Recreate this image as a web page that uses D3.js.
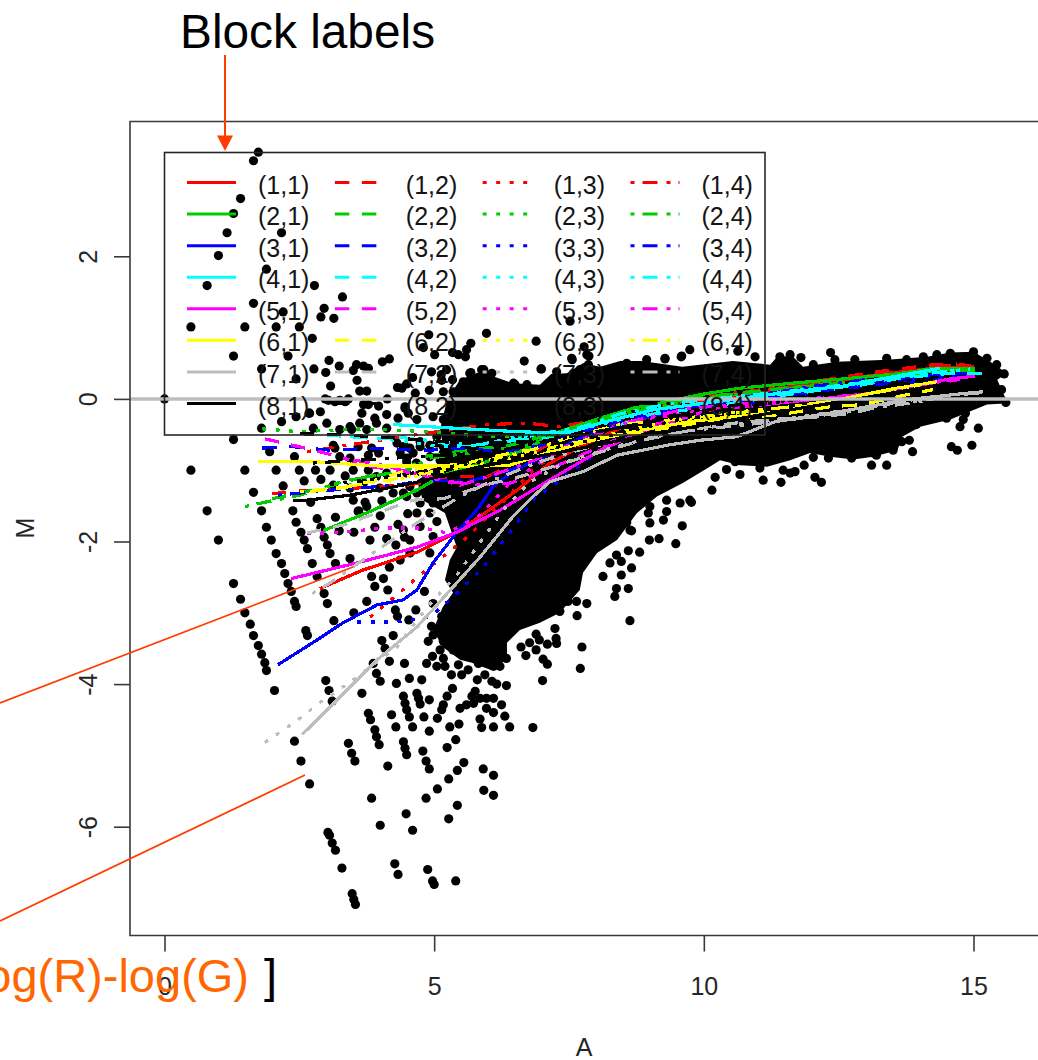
<!DOCTYPE html>
<html>

<head>
  <meta charset="utf-8">
  <title>MA plot by print-tip block</title>
  <script src="https://d3js.org/d3.v7.min.js"></script>
  <style>
    body {
      margin: 0;
      background: white;
    }

    svg {
      display: block;
      font-family: "Liberation Sans", Arial, sans-serif;
    }

    .axis text,
    .axislabel {
      font-size: 25px;
      fill: #262626;
    }

    .legendlabel {
      font-size: 25px;
      fill: #141414;
    }

    .axis line {
      stroke: #3a3a3a;
      stroke-width: 1.6;
    }

    .axis .domain {
      display: none;
    }
  </style>
</head>

<body>
  <svg id="plot" width="1038" height="1060"></svg>

  <script>
    const xTicks = [0, 5, 10, 15];
    const yTicks = [-6, -4, -2, 0, 2];
    const blockRows = [1, 2, 3, 4, 5, 6, 7, 8];
    const blockCols = [1, 2, 3, 4];
    const rowColors = ["#ff0000", "#00cd00", "#0000ff", "#00ffff", "#ff00ff", "#ffff00", "#bebebe", "#000000"];
    const colDashes = ["none", "14.5 12.5", "4 9.5", "4 8 15 9"];

    // outline of the part of the cloud where the dots merge into solid black
    const cloudA = [5.24, 5.48, 5.85, 6.46, 6.96, 7.17, 7.46, 7.76, 8.08, 8.45, 8.84, 9.60, 10.54, 11.23, 11.36, 11.64, 11.84, 12.47, 13.40, 14.14, 14.57, 15.00, 15.31, 15.62, 15.44, 15.55, 15.64, 15.25, 14.57, 14.01, 13.68, 13.59, 13.14, 12.77, 12.34, 11.97, 11.60, 11.17, 10.67, 10.30, 10.11, 9.61, 9.13, 8.76, 8.39, 8.02, 7.76, 7.70, 7.33, 6.96, 6.59, 6.35, 6.35, 6.04, 5.70, 5.48, 5.16, 4.98, 5.16, 5.35, 5.20, 5.29, 5.42, 5.20, 4.79, 4.68, 4.92, 5.20, 5.11];
    const cloudM = [-0.01, 0.27, 0.38, 0.22, 0.20, 0.35, 0.36, 0.50, 0.45, 0.53, 0.53, 0.45, 0.53, 0.48, 0.59, 0.60, 0.45, 0.52, 0.55, 0.59, 0.65, 0.66, 0.52, 0.36, 0.27, 0.08, -0.06, -0.08, -0.29, -0.39, -0.53, -0.72, -0.81, -0.85, -0.81, -0.76, -0.86, -0.95, -0.93, -0.86, -0.95, -1.18, -1.37, -1.60, -1.98, -2.16, -2.44, -2.68, -3.00, -3.14, -3.24, -3.42, -3.66, -3.80, -3.70, -3.66, -3.48, -3.24, -2.92, -2.72, -2.54, -2.26, -2.08, -1.60, -1.42, -1.14, -1.04, -0.79, -0.43];

    // single dots, [A, M]
    const spots = [
      [0, 0], [1.74, 3.46], [1.65, 3.34], [1.41, 2.81], [1.28, 2.60], [1.16, 2.33], [2.17, 2.33], [1.00, 2.01], [1.89, 1.82], [0.79, 1.59], [2.78, 1.59], [3.30, 1.43],
      [1.65, 1.34], [2.20, 1.22], [2.96, 1.27], [2.90, 1.15], [3.14, 1.13], [0.49, 1.01], [1.49, 1.01], [2.07, 1.01], [2.50, 1.01], [1.28, 0.60], [2.29, 0.60], [1.80, 0.42], [2.44, 0.28],
      [2.44, -0.25], [2.17, -0.32], [2.69, -0.20], [1.80, -0.41], [1.95, -0.74], [2.41, -0.81],
      [1.28, -0.57], [0.49, -1.00], [1.49, -1.00], [2.07, -1.00], [2.50, -1.00], [2.80, -1.00], [3.07, -1.00], [2.20, -1.22], [2.59, -1.15], [2.90, -1.13], [1.65, -1.31],
      [0.79, -1.57], [1.80, -1.57], [2.38, -1.57], [2.71, -1.45], [1.89, -1.80], [2.44, -1.73], [2.53, -1.87], [2.83, -1.68], [2.90, -1.80], [1.98, -1.98], [2.59, -1.98], [1.00, -1.98],
      [2.65, -2.10], [2.96, -1.94], [3.02, -2.05], [3.07, -2.17], [2.07, -2.17], [2.17, -2.31], [2.74, -2.31], [3.17, -2.31], [2.23, -2.45], [2.83, -2.49], [3.44, -2.24], [2.29, -2.59],
      [1.28, -2.59], [2.35, -2.70], [1.41, -2.81], [2.41, -2.84], [2.44, -2.91], [2.96, -2.73], [3.02, -2.87], [1.49, -3.00], [1.59, -3.16], [1.65, -3.32], [1.74, -3.46], [1.80, -3.58],
      [1.86, -3.70], [1.89, -3.81], [2.04, -4.09], [2.62, -3.25], [2.65, -3.32], [3.14, -3.11], [3.51, -3.00], [3.75, -2.84], [3.84, -2.49], [3.90, -2.63], [4.14, -2.68], [4.06, -2.52],
      [4.17, -2.36], [4.37, -2.26], [3.17, -1.66], [3.60, -1.57], [4.00, -1.64], [4.33, -1.76], [4.51, -1.61], [3.90, -1.80], [3.51, -1.87], [3.24, -1.85], [3.81, -1.98], [4.12, -1.96],
      [4.45, -1.94], [4.29, -2.05], [4.28, -2.96], [4.32, -3.05], [4.03, -3.39], [4.24, -3.32], [4.09, -3.50], [4.17, -3.68], [3.87, -3.71], [3.93, -3.85], [2.99, -3.95], [3.05, -4.09],
      [3.11, -4.24], [3.66, -4.13], [4.00, -3.96], [4.30, -3.99],
      [4.66, -2.96], [4.53, -3.10], [4.82, -2.70], [4.45, -3.71], [4.54, -3.92], [4.77, -3.94], [4.68, -4.13], [4.71, -4.20], [4.74, -4.28], [4.43, -4.17], [4.46, -4.27], [4.49, -4.36],
      [4.54, -4.46], [4.91, -4.22], [5.17, -4.29], [5.14, -4.36], [4.81, -4.46], [5.06, -4.48], [4.60, -4.60], [4.91, -4.66], [5.29, -4.60], [5.46, -4.56], [5.40, -4.78], [5.24, -4.89],
      [4.43, -4.81], [4.46, -4.90], [4.49, -4.99], [4.79, -4.94], [4.85, -5.08], [4.91, -5.19], [5.43, -5.21], [5.55, -5.10], [5.91, -5.19], [6.10, -5.28], [5.27, -5.33], [5.34, -4.06],
      [5.24, -4.17], [5.80, -3.94], [5.70, -4.17], [5.76, -4.10], [5.48, -4.34], [5.60, -4.29], [5.73, -4.27], [5.85, -4.20], [5.97, -4.20], [6.10, -4.20], [6.25, -4.29], [5.97, -4.34],
      [6.10, -4.40], [6.31, -4.45], [5.85, -4.49], [5.88, -4.61], [6.10, -4.60], [6.40, -4.60], [6.83, -4.61], [5.94, -3.87], [6.07, -3.96], [6.16, -4.00], [6.34, -4.02], [7.01, -3.95],
      [7.71, -3.78], [7.74, -3.48], [7.10, -3.72], [7.02, -3.65], [6.70, -3.60], [6.61, -3.48], [6.77, -3.42], [6.89, -3.52], [6.89, -3.30], [6.95, -3.38], [7.10, -3.44], [7.27, -3.43],
      [7.26, -3.36], [7.24, -3.22], [7.65, -3.04], [8.63, -3.11], [8.35, -2.77], [8.38, -2.66], [8.60, -2.66], [8.13, -2.49], [8.47, -2.47], [8.66, -2.37], [8.26, -2.30], [8.47, -2.28],
      [7.83, -2.87], [7.64, -2.84], [7.48, -2.84], [7.33, -2.98], [7.12, -2.94],
      [4.95, -3.19], [4.98, -3.31], [4.89, -3.40], [5.11, -3.52], [4.97, -3.61], [4.86, -3.71], [5.05, -3.75], [5.17, -3.64], [5.20, -3.75], [5.45, -3.73], [5.32, -3.87], [5.51, -3.87],
      [5.63, -3.80], [5.82, -3.71], [5.73, -3.52], [5.60, -3.54], [5.35, -3.52], [5.45, -3.38], [5.26, -3.24], [5.17, -3.40], [5.14, -3.05], [5.39, -2.98], [4.98, -2.87], [5.57, -3.19],
      [5.70, -3.33], [5.88, -3.61], [6.10, -3.75], [6.22, -3.75], [6.34, -3.64], [6.03, -3.52], [6.22, -3.52],
      [2.41, -4.80], [2.53, -5.08], [2.69, -5.40], [3.41, -4.83], [3.47, -4.97], [3.53, -5.08], [3.78, -4.41], [3.82, -4.50], [3.90, -4.64], [3.93, -4.74], [3.98, -4.85], [4.14, -5.15],
      [4.21, -4.43], [4.29, -4.60], [4.85, -5.60], [4.48, -5.82], [4.60, -6.05], [3.84, -5.60], [4.00, -5.98], [5.43, -5.70], [5.27, -5.89], [5.92, -5.49], [6.10, -5.56], [5.06, -5.47],
      [4.27, -6.52], [4.33, -6.67], [4.88, -6.60], [4.97, -6.76], [5.00, -6.81], [5.40, -6.76], [3.03, -6.08], [3.06, -6.12], [3.11, -6.23], [3.17, -6.33], [3.29, -6.58], [3.48, -6.94],
      [3.51, -7.02], [3.54, -7.09],
      [2.74, 0.85], [3.05, 0.54], [3.24, 0.46], [2.77, 0.42], [2.99, 0.37], [3.50, 0.40], [3.56, 0.48], [3.69, 0.46], [3.78, 0.43], [4.04, 0.52], [4.17, 0.56], [3.57, 0.26], [3.08, 0.18],
      [3.62, 0.11], [3.75, 0.11], [4.32, 0.16], [4.40, 0.15], [4.49, 0.21], [4.65, 0.08], [4.60, 0.30], [4.95, 0.38], [5.23, 0.41], [5.13, 0.34], [5.34, 0.27], [5.14, 0.26], [4.91, 0.12],
      [5.17, 0.10], [5.35, 0.10], [5.52, 0.09], [4.80, 0.72], [5.01, 0.62], [4.90, 0.90], [5.34, 0.65], [5.45, 0.62], [5.58, 0.59], [5.68, 0.78], [5.60, 0.69], [5.97, 0.92], [6.89, 0.81],
      [6.67, 0.53], [6.98, 0.42], [5.68, 0.37], [5.92, 0.41], [6.07, 0.36], [5.54, 0.24], [5.72, 0.20], [6.47, 0.22],
      [2.98, 0], [3.25, -0.02], [3.41, 0], [4.13, 0], [3.04, -0.02], [3.16, -0.04], [3.35, -0.04], [3.69, -0.08], [3.97, -0.10], [3.78, -0.08], [4.12, -0.22], [4.46, -0.11], [4.52, -0.20],
      [3.66, -0.20], [3.90, -0.27], [4.33, -0.27], [4.68, -0.29], [2.89, -0.18], [2.68, -0.20], [2.76, -0.41], [3.01, -0.34], [3.25, -0.43], [3.44, -0.39], [3.62, -0.34], [3.93, -0.34],
      [4.12, -0.41], [3.47, -0.43], [3.75, -0.43], [4.98, -0.25], [5.17, -0.29], [3.13, -0.65], [3.16, -0.69], [3.59, -0.67], [3.84, -0.69], [3.97, -0.76], [3.78, -0.79], [3.44, -0.83],
      [3.25, -0.81], [4.31, -0.62], [4.43, -0.67], [4.55, -0.69], [4.37, -0.76], [4.49, -0.83], [4.74, -0.67], [4.92, -0.65], [5.05, -0.53], [5.17, -0.67], [5.11, -0.86],
      [3.35, -1.08], [3.50, -1.00], [3.78, -1.00], [3.13, -1.21], [3.44, -1.25], [3.69, -1.18], [3.93, -1.09], [4.12, -1.04], [3.99, -1.25], [4.24, -1.32], [4.43, -1.32], [4.68, -1.32],
      [4.80, -1.28], [3.50, -1.42], [3.72, -1.45], [3.75, -1.51], [3.59, -1.58], [4.03, -1.43], [4.98, -1.46],
      [8.81, -2.15], [8.60, -2.13], [8.38, -2.19], [9.17, -1.96], [8.99, -1.98], [9.48, -2.03], [9.60, -1.78], [8.66, -1.85], [8.57, -1.73], [9.77, -1.45], [10.15, -1.28], [10.21, -1.10],
      [10.67, -1.06], [11.43, -1.17], [11.10, -1.14], [12.18, -1.17], [12.06, -1.10], [11.86, -0.93], [12.03, -0.82], [12.74, -0.83], [13.11, -0.93], [13.39, -0.93], [11.60, -1.04],
      [9.56, -1.46], [9.31, -1.58], [9.00, -1.74],
      [13.87, -0.74], [13.81, -0.58], [15.09, -0.41], [14.97, -0.65], [14.59, -0.67], [14.70, -0.72], [14.75, -0.39], [14.81, -0.29], [14.85, -0.20], [15.60, -0.05], [15.57, 0.35],
      [12.35, 0.65], [11.80, 0.58], [10.95, 0.59], [12.74, -0.72], [13.14, -0.76], [13.51, -0.67], [11.69, -1.02], [11.47, -1.00], [10.42, -0.99],
      [7.52, 1.09], [7.56, 0.55], [7.78, 0.73], [7.87, 0.60], [9.74, 0.69], [9.58, 0.59], [9.28, 0.56], [10.63, 0.67],
      // fringe of the solid part, top edge then lower edge
      [5.66, 0.36], [5.88, 0.41], [5.97, 0.31], [6.50, 0.20], [6.72, 0.20], [6.99, 0.42], [7.27, 0.38], [7.58, 0.36], [7.70, 0.41], [7.83, 0.45], [8.38, 0.43], [8.57, 0.50], [8.94, 0.55],
      [9.28, 0.57], [9.59, 0.60], [7.55, 0.57], [7.83, 0.62], [7.86, 0.48], [11.41, 0.59], [11.60, 0.62], [12.03, 0.48], [12.43, 0.55], [12.80, 0.55], [13.39, 0.57], [13.76, 0.55],
      [14.07, 0.59], [14.32, 0.62], [14.57, 0.64], [15.00, 0.66], [15.25, 0.57], [15.43, 0.48], [15.52, 0.13], [15.43, 0.13],
      [10.58, -0.88], [11.04, -0.97], [12.31, -0.83], [12.96, -0.74], [13.20, -0.79], [13.51, -0.72], [13.67, -0.60], [13.94, -0.36], [14.50, -0.27], [13.76, -0.39], [13.39, -0.58],
      [8.63, -1.84], [8.97, -1.60], [9.31, -1.42], [9.74, -1.42], [9.25, -1.70], [9.00, -1.51],
      // dense patch just left of the solid part
      [4.46, -0.13], [4.46, -0.67], [4.61, -0.76], [5.05, -0.62], [4.74, -0.60], [5.17, -0.76], [4.49, -0.88], [4.67, -0.90], [4.92, -0.81], [5.17, -0.90], [4.49, -1.04], [4.74, -1.02],
      [4.98, -1.04], [5.23, -1.02], [4.55, -1.23], [4.80, -1.18], [5.05, -1.23], [5.29, -1.37], [4.74, -1.46], [4.98, -1.37], [4.49, -1.37], [5.29, -1.56], [4.68, -1.60], [4.92, -1.60],
      [4.74, -1.79], [5.05, -1.72], [4.43, -1.84], [4.98, -1.93], [4.55, -1.98], [4.92, -2.16], [4.55, -2.16]
    ];

    // loess curves, one per block: rows 1-8, columns 1-4 inside each row
    const curveA = [
      [2.88, 3.68, 4.68, 5.42, 5.98, 6.54, 7.15, 7.76, 8.45, 9.08, 10.04, 11.23, 12.10, 13.21, 14.25, 14.94],
      [1.99, 2.51, 3.01, 3.94, 4.50, 5.48, 5.98, 6.54, 7.09, 7.76, 8.45, 9.08, 10.04, 11.23, 12.10, 13.21, 14.25, 15.03],
      [3.81, 4.31, 4.74, 5.61, 6.22, 6.83, 7.46, 8.08, 9.00, 10.04, 11.97, 13.40, 14.70],
      [2.64, 3.38, 4.87, 5.98, 6.72, 7.33, 8.08, 9.00, 10.04, 11.17, 12.34, 13.40, 14.70, 15.03],
      [2.94, 3.87, 4.68, 5.16, 6.65, 7.33, 8.08, 8.69, 9.32, 9.93, 10.67, 11.64, 12.58, 13.58, 14.20, 15.03],
      [1.99, 2.51, 3.01, 3.57, 4.50, 4.79, 5.61, 6.41, 7.15, 8.08, 9.00, 10.04, 11.23, 12.58, 13.58, 14.57],
      [1.81, 2.51, 3.68, 4.92, 5.98, 6.83, 7.76, 8.76, 10.04, 11.23, 12.58, 13.77, 14.88],
      [1.49, 1.73, 2.51, 3.38, 4.50, 4.92, 5.85, 6.72, 7.46, 8.45, 9.73, 11.17, 12.34, 13.40, 14.57, 15.03],
      [2.10, 2.83, 3.31, 3.94, 4.42, 4.68, 4.98, 5.42, 5.79, 6.09, 6.46, 6.96, 7.76, 8.76, 9.93, 11.41, 12.58, 14.38],
      [1.81, 2.38, 3.07, 3.68, 4.18, 4.92, 5.48, 6.22, 6.96, 7.76, 8.76, 10.04, 11.23, 12.77, 14.25, 14.94],
      [3.57, 4.24, 4.92, 5.35, 5.91, 6.54, 6.83, 7.46, 8.08, 9.00, 10.30, 11.97, 13.40, 14.88],
      [2.10, 3.07, 4.31, 4.79, 5.11, 5.72, 6.41, 7.33, 8.08, 9.00, 10.30, 11.97, 13.21, 14.62],
      [4.24, 5.35, 6.54, 7.46, 8.08, 9.08, 10.04, 11.32, 12.58, 13.58, 14.38],
      [2.51, 3.44, 3.87, 4.98, 5.29, 5.91, 6.46, 7.33, 8.08, 9.00, 9.93, 11.32, 12.58, 13.64, 14.57, 15.25],
      [3.44, 4.31, 5.11, 5.79, 6.54, 7.33, 8.08, 9.00, 10.30, 11.84, 13.21, 14.70],
      [4.13, 5.11, 5.72, 6.41, 6.96, 7.76, 8.45, 9.31, 10.67, 12.15, 13.58, 14.94],
      [2.35, 3.57, 4.68, 5.42, 6.22, 7.09, 8.08, 8.84, 10.04, 11.60, 13.08, 14.57, 15.03],
      [1.86, 2.38, 2.88, 3.31, 3.81, 4.31, 4.92, 5.29, 5.85, 6.41, 7.09, 8.08, 9.00, 10.30, 11.97, 13.21, 14.88],
      [2.64, 3.31, 4.05, 4.79, 5.24, 5.85, 6.46, 7.33, 8.45, 10.04, 11.97, 13.40, 14.70],
      [3.31, 4.05, 4.74, 5.48, 6.09, 6.78, 7.46, 8.45, 9.73, 11.41, 13.08, 14.57],
      [1.73, 2.75, 3.94, 5.24, 5.61, 6.41, 6.96, 7.83, 8.76, 9.73, 10.30, 11.41, 12.77, 13.69, 14.32],
      [2.70, 3.44, 4.05, 4.50, 5.61, 5.98, 6.54, 7.28, 7.83, 8.69, 9.93, 10.61, 11.41, 12.34, 12.95, 13.77, 14.25],
      [4.13, 5.11, 6.09, 6.96, 7.76, 8.76, 10.04, 11.41, 12.77, 14.01],
      [2.51, 3.20, 4.13, 5.11, 5.85, 6.72, 7.46, 8.45, 9.73, 11.17, 12.58, 14.01],
      [2.55, 3.20, 3.94, 4.68, 5.85, 6.46, 6.83, 7.15, 7.76, 8.39, 9.32, 9.93, 10.61, 11.32, 12.58, 13.77, 14.88, 15.18],
      [2.64, 3.31, 4.61, 5.16, 6.09, 6.46, 7.20, 8.02, 8.87, 9.61, 10.30, 11.23, 12.15, 12.77, 13.58, 14.62, 15.18],
      [1.86, 2.48, 2.88, 3.50, 4.31, 4.87, 5.42, 6.28, 6.78, 7.46, 8.45, 9.73, 11.41, 13.21, 14.57],
      [2.74, 3.07, 3.62, 4.68, 5.48, 6.09, 6.96, 7.76, 8.76, 9.93, 11.41, 13.08, 14.25],
      [2.38, 2.64, 3.44, 4.61, 5.85, 7.33, 9.00, 11.23, 13.08, 14.57],
      [2.51, 3.20, 4.31, 5.48, 6.96, 8.45, 10.30, 12.34, 14.25],
      [3.07, 4.13, 5.29, 6.54, 8.08, 10.04, 12.15, 14.01],
      [2.75, 3.81, 4.98, 6.22, 7.76, 9.73, 11.97, 14.25]
    ];
    const curveM = [
      [-2.66, -2.40, -2.15, -1.87, -1.58, -1.28, -0.90, -0.65, -0.41, -0.22, -0.04, 0.10, 0.21, 0.34, 0.43, 0.45],
      [-1.33, -1.29, -1.28, -1.23, -1.21, -1.09, -1.09, -0.88, -0.65, -0.45, -0.29, -0.15, -0.01, 0.13, 0.25, 0.38, 0.48, 0.46],
      [-3.06, -2.75, -2.47, -1.94, -1.49, -1.00, -0.65, -0.43, -0.22, 0.01, 0.20, 0.34, 0.49],
      [-0.74, -0.65, -0.48, -0.36, -0.34, -0.39, -0.29, -0.13, 0.03, 0.14, 0.22, 0.32, 0.49, 0.45],
      [-1.85, -1.56, -1.28, -1.07, -0.72, -0.46, -0.27, -0.13, -0.04, 0.06, 0.15, 0.22, 0.28, 0.35, 0.42, 0.42],
      [-1.40, -1.32, -1.23, -1.12, -1.00, -0.81, -0.72, -0.65, -0.50, -0.29, -0.13, 0.03, 0.13, 0.22, 0.31, 0.41],
      [-0.42, -0.46, -0.42, -0.46, -0.53, -0.53, -0.41, -0.18, 0.01, 0.13, 0.24, 0.34, 0.38],
      [-1.51, -1.47, -1.35, -1.14, -1.00, -0.83, -0.74, -0.65, -0.46, -0.22, -0.01, 0.11, 0.21, 0.29, 0.39, 0.38],
      [-3.73, -3.38, -3.14, -2.89, -2.82, -2.68, -2.30, -1.87, -1.56, -1.23, -1.02, -0.83, -0.53, -0.29, -0.08, 0.04, 0.15, 0.27],
      [-0.69, -0.67, -0.72, -0.70, -0.70, -0.72, -0.69, -0.74, -0.66, -0.46, -0.24, -0.06, 0.08, 0.21, 0.34, 0.36],
      [-3.13, -3.13, -3.06, -2.78, -2.36, -1.74, -1.42, -1.07, -0.72, -0.41, -0.15, 0.08, 0.24, 0.34],
      [-1.35, -1.28, -1.21, -1.14, -1.14, -1.14, -1.00, -0.72, -0.46, -0.24, -0.03, 0.17, 0.29, 0.36],
      [-0.36, -0.41, -0.46, -0.48, -0.34, -0.15, -0.06, 0.07, 0.18, 0.32, 0.43],
      [-0.48, -0.53, -0.55, -0.58, -0.65, -0.62, -0.58, -0.55, -0.46, -0.22, -0.13, 0.03, 0.15, 0.29, 0.36, 0.36],
      [-0.53, -0.58, -0.67, -0.65, -0.53, -0.48, -0.36, -0.18, -0.01, 0.10, 0.25, 0.41],
      [-0.52, -0.60, -0.65, -0.59, -0.49, -0.39, -0.21, -0.07, 0.04, 0.15, 0.31, 0.42],
      [-2.52, -2.30, -2.08, -1.87, -1.56, -1.16, -0.72, -0.46, -0.17, -0.04, 0.07, 0.28, 0.32],
      [-0.56, -0.65, -0.74, -0.83, -0.95, -1.00, -1.09, -1.16, -1.21, -1.18, -1.00, -0.67, -0.36, -0.13, 0, 0.08, 0.29],
      [-1.89, -1.87, -1.81, -1.81, -1.88, -1.63, -1.14, -0.72, -0.36, -0.15, -0.01, 0.10, 0.24],
      [-0.83, -0.93, -1.07, -1.21, -1.07, -0.88, -0.66, -0.35, -0.13, -0.03, 0.07, 0.24],
      [-0.88, -0.88, -0.94, -0.94, -0.95, -0.93, -0.79, -0.60, -0.45, -0.32, -0.27, -0.18, 0.03, 0.17, 0.24],
      [-1.30, -1.23, -1.11, -1.00, -0.90, -0.83, -0.74, -0.67, -0.58, -0.48, -0.34, -0.27, -0.22, -0.11, -0.08, 0.06, 0.13],
      [-1.16, -1.02, -0.88, -0.74, -0.58, -0.41, -0.22, -0.13, 0.01, 0.15],
      [-1.30, -1.25, -1.14, -1.00, -0.88, -0.74, -0.55, -0.36, -0.27, -0.15, -0.01, 0.18],
      [-4.71, -4.22, -3.66, -3.20, -2.22, -1.65, -1.37, -1.16, -1.02, -0.79, -0.65, -0.58, -0.53, -0.32, -0.17, -0.01, 0.08, 0.10],
      [-1.88, -1.77, -1.42, -1.40, -1.18, -1.12, -0.95, -0.76, -0.58, -0.46, -0.36, -0.29, -0.25, -0.20, -0.04, 0.06, 0.08],
      [-4.82, -4.50, -4.26, -3.94, -3.48, -2.92, -2.47, -1.56, -1.16, -0.88, -0.65, -0.43, -0.29, -0.10, 0.03],
      [-2.73, -2.58, -2.29, -1.74, -1.37, -1.14, -0.88, -0.70, -0.53, -0.43, -0.31, -0.14, -0.01],
      [-1.42, -1.42, -1.35, -1.18, -0.95, -0.75, -0.50, -0.20, 0.03, 0.22],
      [-0.49, -0.50, -0.55, -0.62, -0.60, -0.40, -0.12, 0.10, 0.28],
      [-1.20, -1.10, -0.95, -0.80, -0.55, -0.20, 0.05, 0.25],
      [-0.90, -0.85, -0.80, -0.72, -0.50, -0.22, 0.02, 0.27]
    ];

    const svg = d3.select("svg#plot");
    const svgWidth = +svg.attr("width");

    const frame = { "left": 130, "top": 121.5, "bottom": 935.5 };
    const xScale = d3.scaleLinear().domain([0, 15]).range([164.5, 973.5]);
    const yScale = d3.scaleLinear().domain([-6, 2]).range([826.7, 256.3]);
    const curveLine = d3.line().x(d => xScale(d[0])).y(d => yScale(d[1]));

    // axes first so the big orange text can sit on the 0 label
    let bottomAxis = d3.axisBottom(xScale).tickValues(xTicks).tickSize(16).tickPadding(25.5).tickFormat(d3.format("d"));
    svg.append("g")
      .attr("class", "axis")
      .attr("transform", `translate(0,${frame.bottom})`)
      .call(bottomAxis);

    let leftAxis = d3.axisLeft(yScale).tickValues(yTicks).tickSize(16).tickFormat(d => d3.format("d")(d).replace("−", "-"));
    svg.append("g")
      .attr("class", "axis")
      .attr("transform", `translate(${frame.left},0)`)
      .call(leftAxis)
      .selectAll("text")
      .attr("x", 0)
      .attr("dy", 0)
      .attr("text-anchor", "middle")
      .attr("transform", "translate(-33,0) rotate(-90)");

    svg.append("text").attr("class", "axislabel")
      .attr("x", 584).attr("y", 1056)
      .attr("text-anchor", "middle")
      .text("A");

    svg.append("text").attr("class", "axislabel")
      .attr("transform", "translate(34,528) rotate(-90)")
      .attr("text-anchor", "middle")
      .text("M");

    // solid part of the cloud, then the loose dots
    svg.append("path")
      .attr("d", curveLine(cloudA.map((a, i) => [a, cloudM[i]])) + "Z")
      .attr("fill", "black");

    svg.append("g").selectAll("circle").data(spots)
      .join("circle")
      .attr("cx", d => xScale(d[0]))
      .attr("cy", d => yScale(d[1]))
      .attr("r", 4.6)
      .attr("fill", "black");

    // one curve per block, the reference has them aliased
    let curves = svg.append("g")
      .attr("fill", "none")
      .attr("stroke-width", 3.2)
      .attr("shape-rendering", "crispEdges");
    blockRows.forEach((row, r) => {
      blockCols.forEach((col, c) => {
        let k = r * blockCols.length + c;
        curves.append("path")
          .attr("d", curveLine(curveA[k].map((a, i) => [a, curveM[k][i]])))
          .attr("stroke", rowColors[r])
          .attr("stroke-dasharray", colDashes[c]);
      });
    });

    // M = 0 reference line
    svg.append("line")
      .attr("x1", frame.left).attr("x2", svgWidth)
      .attr("y1", yScale(0)).attr("y2", yScale(0))
      .attr("stroke", "#bebebe")
      .attr("stroke-width", 3.5);

    // plot frame, it runs off the right side of the page
    svg.append("path")
      .attr("d", `M${svgWidth + 5},${frame.top}H${frame.left}V${frame.bottom}H${svgWidth + 5}`)
      .attr("fill", "none")
      .attr("stroke", "#3a3a3a")
      .attr("stroke-width", 1.6);

    // legend goes last, it has no background
    let legendY = d3.scaleLinear().domain([0, 7]).range([182.5, 403.5]);
    let legendLineX = d3.scaleLinear().domain([0, 3]).range([187, 630.5]);
    let legend = svg.append("g");

    legend.append("rect")
      .attr("x", 164.5).attr("y", 152.5)
      .attr("width", 600.5).attr("height", 282.5)
      .attr("fill", "none")
      .attr("stroke", "#262626")
      .attr("stroke-width", 1.6);

    blockRows.forEach((row, r) => {
      blockCols.forEach((col, c) => {
        legend.append("line")
          .attr("x1", legendLineX(c)).attr("x2", legendLineX(c) + 49)
          .attr("y1", legendY(r)).attr("y2", legendY(r))
          .attr("stroke", rowColors[r])
          .attr("stroke-width", 3)
          .attr("stroke-dasharray", colDashes[c]);

        legend.append("text")
          .attr("class", "legendlabel")
          .attr("x", legendLineX(c) + 71)
          .attr("y", legendY(r) + 11)
          .text(`(${row},${col})`);
      });
    });

    // annotations laid over the R plot
    const arrowColor = "#ff3c00";
    svg.append("text")
      .attr("x", 180).attr("y", 48)
      .style("font-size", "47.8px")
      .text("Block labels");

    svg.append("line")
      .attr("x1", 225).attr("x2", 225).attr("y1", 55).attr("y2", 137)
      .attr("stroke", arrowColor).attr("stroke-width", 2);

    svg.append("path")
      .attr("d", "M217,135.5H233L225,151Z")
      .attr("fill", arrowColor);

    svg.append("line")
      .attr("x1", 0).attr("y1", 703).attr("x2", 353).attr("y2", 567)
      .attr("stroke", arrowColor).attr("stroke-width", 1.8);

    svg.append("line")
      .attr("x1", 0).attr("y1", 921).attr("x2", 305).attr("y2", 775)
      .attr("stroke", arrowColor).attr("stroke-width", 1.8);

    svg.append("text")
      .attr("x", 249).attr("y", 992)
      .attr("text-anchor", "end")
      .style("font-size", "47px")
      .attr("fill", "#ff6600")
      .text("log(R)-log(G)");

    svg.append("text")
      .attr("x", 264).attr("y", 992)
      .style("font-size", "47px")
      .text("]");
  </script>
</body>

</html>
